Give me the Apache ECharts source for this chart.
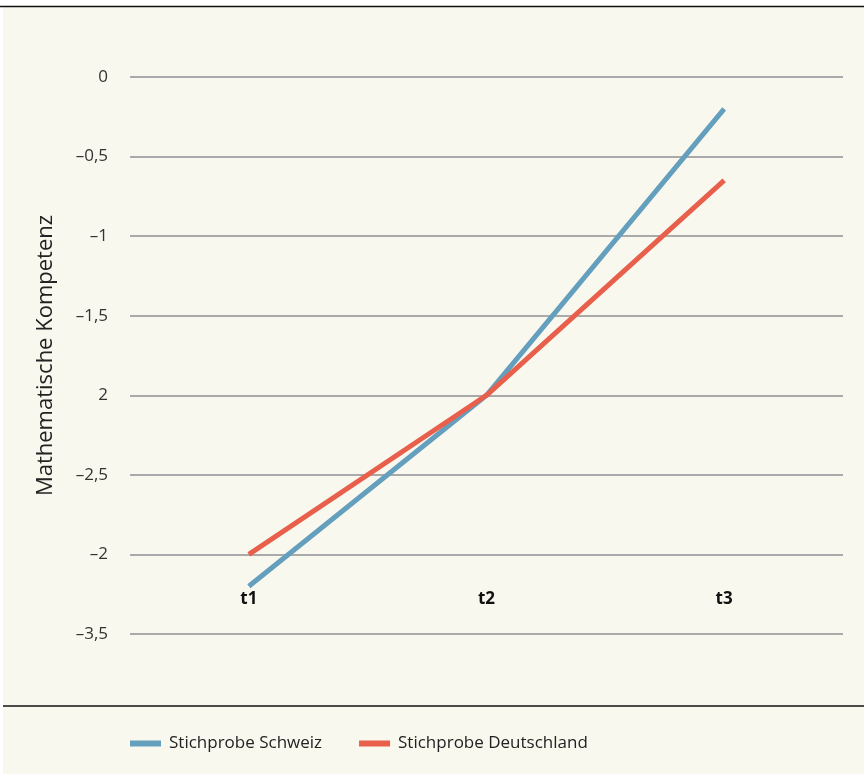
<!DOCTYPE html>
<html><head><meta charset="utf-8">
<script src="https://cdn.jsdelivr.net/npm/echarts@6/dist/echarts.min.js"></script>
<style>html,body{margin:0;padding:0;background:#fff}#c{width:864px;height:774px}</style>
</head><body><div id="c"></div>
<script>
const categories = ['t1', 't2', 't3'];
const schweiz = [-3.2, -2.0, -0.2];
const deutschland = [-3.0, -2.0, -0.65];
const yTickValues = [0, -0.5, -1, -1.5, -2, -2.5, -3, -3.5];
const yTickLabels = ['0', '\u20130,5', '\u20131', '\u20131,5', '2', '\u20132,5', '\u20132', '\u20133,5'];
const seriesNames = ['Stichprobe Schweiz', 'Stichprobe Deutschland'];
const yAxisName = 'Mathematische Kompetenz';

const font = '"Open Sans", "Noto Sans", sans-serif';
const chart = echarts.init(document.getElementById('c'));
chart.setOption({
  backgroundColor: '#fff',
  animation: false,
  graphic: [
    { type: 'rect', shape: { x: 3, y: 7, width: 861, height: 767 }, style: { fill: '#f9f8ee' }, z: -10 },
    { type: 'line', shape: { x1: 0, y1: 6.5, x2: 864, y2: 6.5 }, style: { stroke: '#111', lineWidth: 1.5 } },
    { type: 'line', shape: { x1: 3, y1: 706, x2: 864, y2: 706 }, style: { stroke: '#111', lineWidth: 1.5 } }
  ],
  grid: { left: 130, right: 21, top: 77, bottom: 774 - 634 },
  legend: {
    left: 130, top: 735, padding: 0,
    itemWidth: 31, itemHeight: 6, itemGap: 37,
    icon: 'rect',
    textStyle: { fontFamily: font, fontSize: 17, color: '#222', padding: [0, 0, 0, 3] },
    data: seriesNames
  },
  xAxis: {
    type: 'category',
    data: categories,
    boundaryGap: true,
    offset: -80,
    axisLine: { show: false },
    axisTick: { show: false },
    axisLabel: { margin: 37, fontFamily: font, fontSize: 17, fontWeight: 'bold', color: '#111' }
  },
  yAxis: {
    type: 'value',
    min: -3.5, max: 0, interval: 0.5,
    name: yAxisName,
    nameLocation: 'middle',
    nameGap: 73,
    nameTextStyle: { fontFamily: font, fontSize: 22, color: '#222' },
    axisLine: { show: false },
    axisTick: { show: false },
    axisLabel: {
      margin: 22, fontFamily: font, fontSize: 17, color: '#333',
      formatter: function (v) {
        const i = yTickValues.findIndex(t => Math.abs(t - v) < 1e-6);
        return i >= 0 ? yTickLabels[i] : '';
      }
    },
    splitLine: { lineStyle: { color: '#aaaaaa', width: 2 } }
  },
  series: [
    { name: seriesNames[0], type: 'line', data: schweiz, symbol: 'none', lineStyle: { width: 5, color: '#649fbe' }, itemStyle: { color: '#649fbe' } },
    { name: seriesNames[1], type: 'line', data: deutschland, symbol: 'none', lineStyle: { width: 5, color: '#e8604c' }, itemStyle: { color: '#e8604c' } }
  ]
});
</script></body></html>
